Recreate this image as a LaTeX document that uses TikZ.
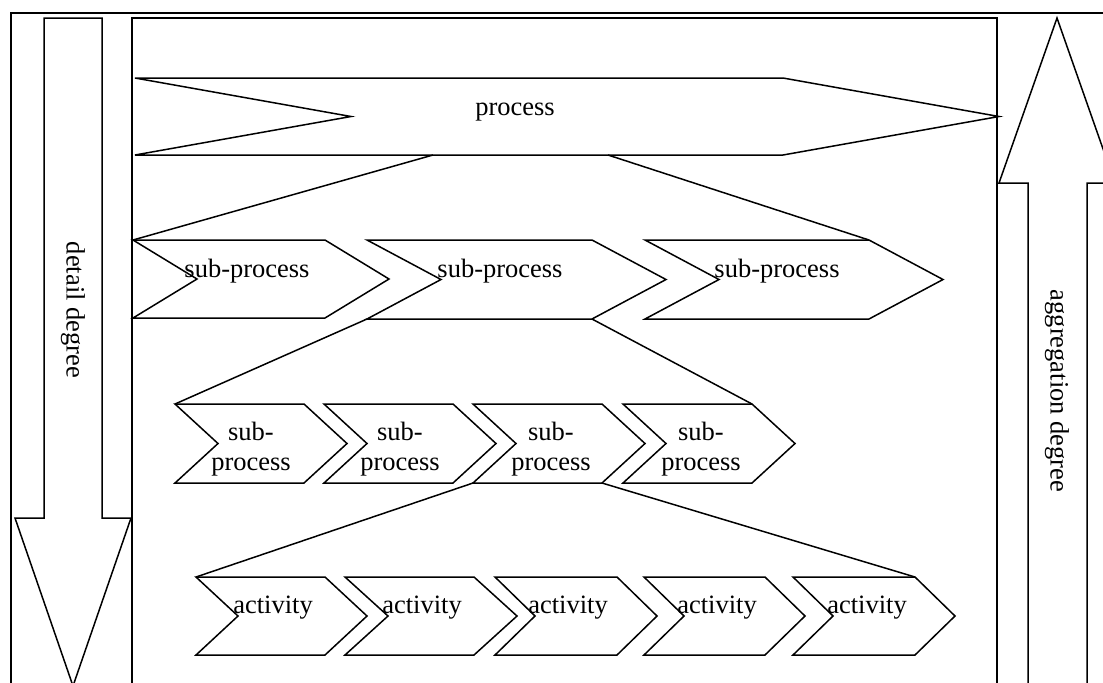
\documentclass[tikz,border=0pt]{standalone}
\usepackage{fontspec}
\setmainfont{Liberation Serif}
\usepackage{tikz}

% chevron: name, left x, top y, body length, point depth, height
\newcommand{\chevbox}[6]{%
  \draw (#2,#3) coordinate (#1-tl)
    -- ++(#4,0) coordinate (#1-tr)
    -- ++(#5,#6/2) coordinate (#1-tip)
    -- ++(-#5,#6/2) coordinate (#1-br)
    -- ++(-#4,0) coordinate (#1-bl)
    -- ++(#5,-#6/2) coordinate (#1-notch)
    -- cycle;}

\begin{document}
\begin{tikzpicture}[x=0.5pt, y=-0.5pt, line width=0.75pt, line join=miter,
  every node/.style={font=\fontsize{13.25}{15}\selectfont, inner sep=0pt}]

  \clip (0,0) rectangle (1103,682);

  % frames
  \draw (11,13) rectangle (1120,700);
  \draw (132,18) rectangle (997,700);

  % degree arrows
  \draw (44,18) -- (102,18) -- (102,518) -- (131,518) -- (73,686)
    -- (15,518) -- (44,518) -- cycle;
  \node[rotate=-90] (detail) at (73,310) {detail degree};

  \draw (1057,18) -- (1115,183) -- (1087,183) -- (1087,700)
    -- (1028,700) -- (1028,183) -- (999,183) -- cycle;
  \node[rotate=-90] (aggr) at (1057,391) {aggregation degree};

  % process
  \chevbox{proc}{135}{78}{648}{216}{77}
  \node[anchor=base] (proc-t) at (515,115) {process};

  % sub-processes, first level
  \chevbox{sp1}{133}{240}{192}{64}{78}
  \chevbox{sp2}{367}{240}{225}{74}{79}
  \chevbox{sp3}{645}{240}{224}{74}{79}
  \node[anchor=base] (sp1-t) at (247,277) {sub-process};
  \node[anchor=base] (sp2-t) at (500,277) {sub-process};
  \node[anchor=base] (sp3-t) at (777,277) {sub-process};

  % sub-processes, second level
  \chevbox{ss1}{175}{404}{129}{43}{79}
  \chevbox{ss2}{324}{404}{129}{43}{79}
  \chevbox{ss3}{473}{404}{129}{43}{79}
  \chevbox{ss4}{623}{404}{129}{43}{79}
  \node[align=center] (ss1-t) at (251,449) {sub-\\process};
  \node[align=center] (ss2-t) at (400,449) {sub-\\process};
  \node[align=center] (ss3-t) at (551,449) {sub-\\process};
  \node[align=center] (ss4-t) at (701,449) {sub-\\process};

  % activities
  \chevbox{act1}{196}{577}{129}{42}{78}
  \chevbox{act2}{345}{577}{129}{43}{78}
  \chevbox{act3}{495}{577}{122}{40}{78}
  \chevbox{act4}{644}{577}{121}{40}{78}
  \chevbox{act5}{793}{577}{122}{40}{78}
  \node[anchor=base] (act1-t) at (273,613) {activity};
  \node[anchor=base] (act2-t) at (422,613) {activity};
  \node[anchor=base] (act3-t) at (568,613) {activity};
  \node[anchor=base] (act4-t) at (717,613) {activity};
  \node[anchor=base] (act5-t) at (867,613) {activity};

  % decomposition lines
  \coordinate (proc-l) at (433,155);
  \coordinate (proc-r) at (608,155);
  \draw (proc-l) -- (sp1-tl);
  \draw (proc-r) -- (sp3-tr);
  \draw (sp2-bl) -- (ss1-tl);
  \draw (sp2-br) -- (ss4-tr);
  \draw (ss3-bl) -- (act1-tl);
  \draw (ss3-br) -- (act5-tr);

\end{tikzpicture}
\end{document}
